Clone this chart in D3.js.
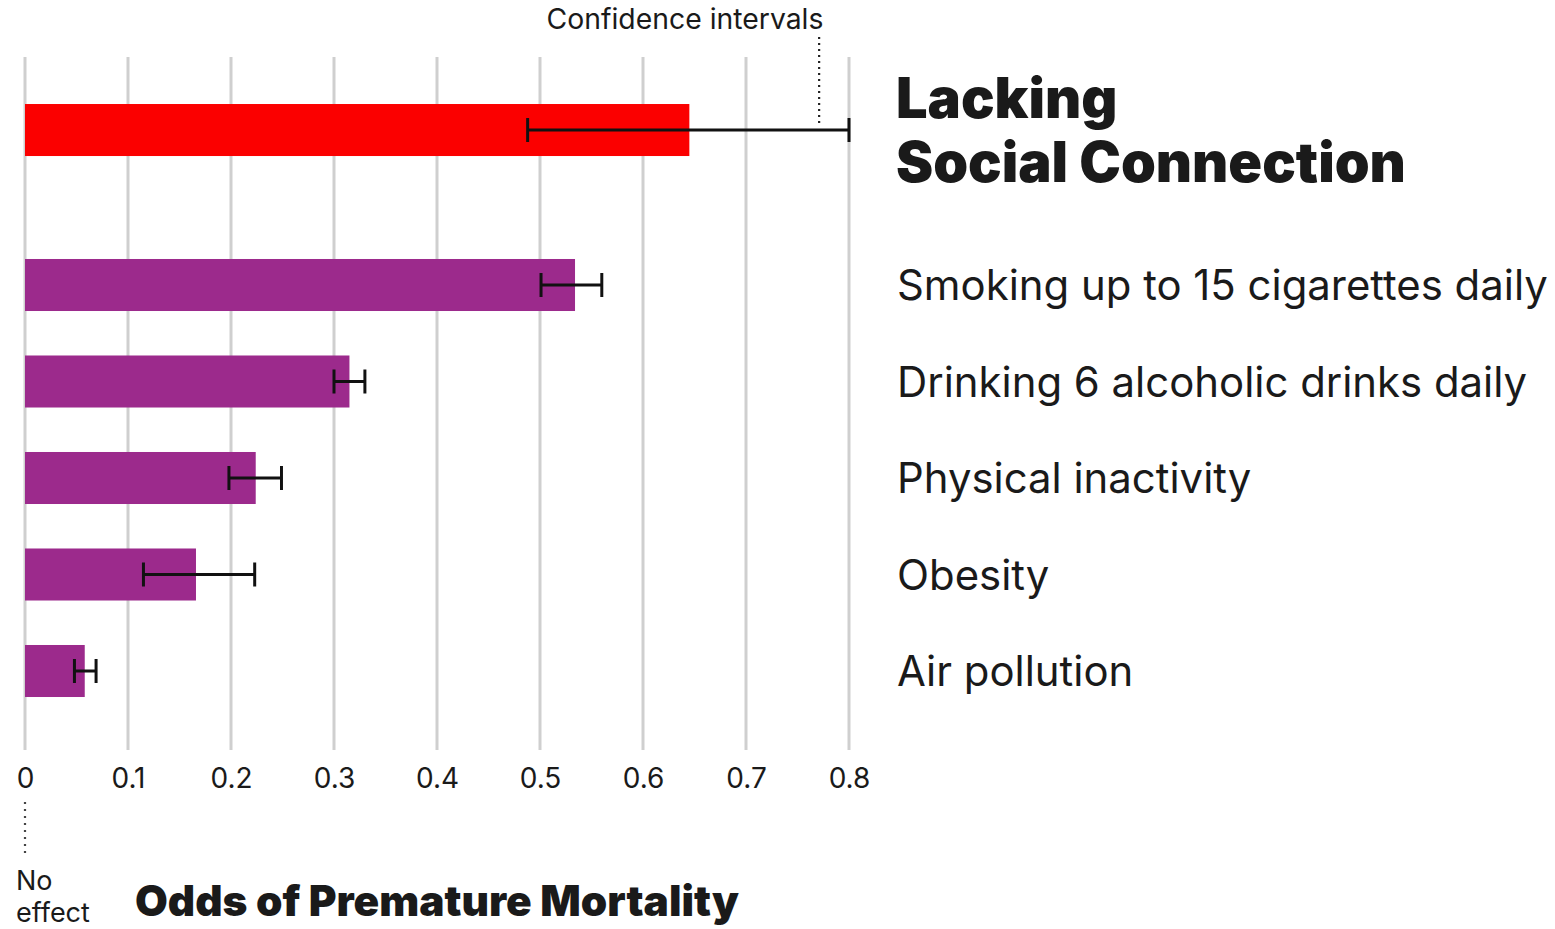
<!DOCTYPE html>
<html>
<head>
<meta charset="utf-8">
<script src="https://cdn.jsdelivr.net/npm/d3@7"></script>
<style>
  html, body { margin: 0; padding: 0; background: #ffffff; }
  svg { display: block; }
  text { font-family: Inter, "Noto Sans", sans-serif; fill: #1a1a1a; }
</style>
</head>
<body>
<svg id="chart" width="1555" height="929"></svg>
<script>
// ---- data ----
const featuredCategory = "Lacking Social Connection";
const featuredTitleLines = ["Lacking", "Social Connection"];
const featuredValue = 0.645;
const featuredLow = 0.488;
const featuredHigh = 0.800;

const categories = [
  "Smoking up to 15 cigarettes daily",
  "Drinking 6 alcoholic drinks daily",
  "Physical inactivity",
  "Obesity",
  "Air pollution"
];
const values = [0.534, 0.315, 0.224, 0.166, 0.058];
const ciLow  = [0.501, 0.300, 0.198, 0.115, 0.048];
const ciHigh = [0.560, 0.330, 0.249, 0.223, 0.069];

const tickValues = [0, 0.1, 0.2, 0.3, 0.4, 0.5, 0.6, 0.7, 0.8];
const tickLabels = ["0", "0.1", "0.2", "0.3", "0.4", "0.5", "0.6", "0.7", "0.8"];

const axisTitle = "Odds of Premature Mortality";
const annotationCI = "Confidence intervals";
const annotationNoEffect = ["No", "effect"];

// ---- helpers ----
// font-size that makes a text's rendered width match a target width
function fitWidth(sel, target) {
  const fs = parseFloat(sel.style("font-size"));
  const w = sel.node().getComputedTextLength();
  return fs * target / w;
}

// ---- layout ----
const svg = d3.select("#chart");
const x = d3.scaleLinear().domain([0, 0.8]).range([25, 849]);

const y = d3.scaleBand()
  .domain(categories)
  .range([236.75, 719.25])
  .paddingInner(0.461)
  .paddingOuter(0.2305);
const bw = y.bandwidth();
const featuredY = y(categories[0]) - y.step() * 1.606;

const gridTop = 57, gridBottom = 750;
const purple = "#9c2a8c", red = "#fb0000";

// gridlines
svg.append("g").selectAll("line")
  .data(tickValues).join("line")
  .attr("x1", d => x(d)).attr("x2", d => x(d))
  .attr("y1", gridTop).attr("y2", gridBottom)
  .attr("stroke", "#cfcfcf").attr("stroke-width", 3);

// axis tick labels
const axis = d3.axisBottom(x).tickValues(tickValues)
  .tickFormat((d, i) => tickLabels[i]).tickSize(0).tickPadding(0);
const axisG = svg.append("g").attr("transform", `translate(0, 768)`).call(axis);
axisG.select(".domain").remove();
axisG.selectAll("text")
  .style("font-family", "Inter, sans-serif")
  .style("font-size", "28px")
  .attr("fill", "#2a2a2a")
  .attr("dy", "0.73em");

// featured bar
svg.append("rect")
  .attr("x", x(0)).attr("y", featuredY)
  .attr("width", x(featuredValue) - x(0)).attr("height", bw)
  .attr("fill", red);

// other bars
svg.append("g").selectAll("rect")
  .data(categories).join("rect")
  .attr("x", x(0))
  .attr("y", d => y(d))
  .attr("width", (d, i) => x(values[i]) - x(0))
  .attr("height", bw)
  .attr("fill", purple);

// error bars
function errorBar(g, lo, hi, cy) {
  const capH = 24;
  g.append("line").attr("x1", x(lo)).attr("x2", x(hi)).attr("y1", cy).attr("y2", cy)
    .attr("stroke", "#111").attr("stroke-width", 3);
  [lo, hi].forEach(v => {
    g.append("line").attr("x1", x(v)).attr("x2", x(v))
      .attr("y1", cy - capH / 2).attr("y2", cy + capH / 2)
      .attr("stroke", "#111").attr("stroke-width", 3);
  });
}
const eb = svg.append("g");
errorBar(eb, featuredLow, featuredHigh, featuredY + bw / 2);
categories.forEach((c, i) => errorBar(eb, ciLow[i], ciHigh[i], y(c) + bw / 2));

// category labels
const labels = svg.append("g").selectAll("text")
  .data(categories).join("text")
  .attr("x", 897)
  .attr("y", d => y(d) + bw / 2)
  .attr("dy", "0.36em")
  .style("font-size", "40px")
  .text(d => d);
const labelFs = fitWidth(d3.select(labels.nodes()[0]), 651);
labels.style("font-size", labelFs + "px");

// featured title
const ft = svg.append("text").style("font-size", "55px").style("font-weight", 900);
ft.selectAll("tspan").data(featuredTitleLines).join("tspan")
  .attr("x", 896)
  .attr("y", (d, i) => 118 + i * 64)
  .text(d => d);
{
  const probe = svg.append("text").style("font-size", "55px").style("font-weight", 900)
    .text(featuredTitleLines[1]);
  const fs = fitWidth(probe, 510);
  probe.remove();
  ft.style("font-size", fs + "px");
}

// Confidence intervals annotation
const ci = svg.append("text")
  .attr("x", 685).attr("y", 29)
  .attr("text-anchor", "middle")
  .style("font-size", "25px")
  .attr("fill", "#222")
  .text(annotationCI);
ci.style("font-size", fitWidth(ci, 277) + "px");
svg.append("line")
  .attr("x1", x(0.771)).attr("x2", x(0.771))
  .attr("y1", 37).attr("y2", 124)
  .attr("stroke", "#222").attr("stroke-width", 2.2)
  .attr("stroke-dasharray", "2,4");

// No effect annotation
svg.append("line")
  .attr("x1", x(0)).attr("x2", x(0))
  .attr("y1", 802).attr("y2", 856)
  .attr("stroke", "#444").attr("stroke-width", 2.2)
  .attr("stroke-dasharray", "2,5");
const ne = svg.append("text").style("font-size", "27px").attr("fill", "#1a1a1a");
ne.selectAll("tspan").data(annotationNoEffect).join("tspan")
  .attr("x", 16)
  .attr("y", (d, i) => 890 + i * 32)
  .text(d => d);

// axis title
const at = svg.append("text")
  .attr("x", 135).attr("y", 916)
  .style("font-size", "40px")
  .style("font-weight", 900)
  .text(axisTitle);
at.style("font-size", fitWidth(at, 604) + "px");
</script>
</body>
</html>
